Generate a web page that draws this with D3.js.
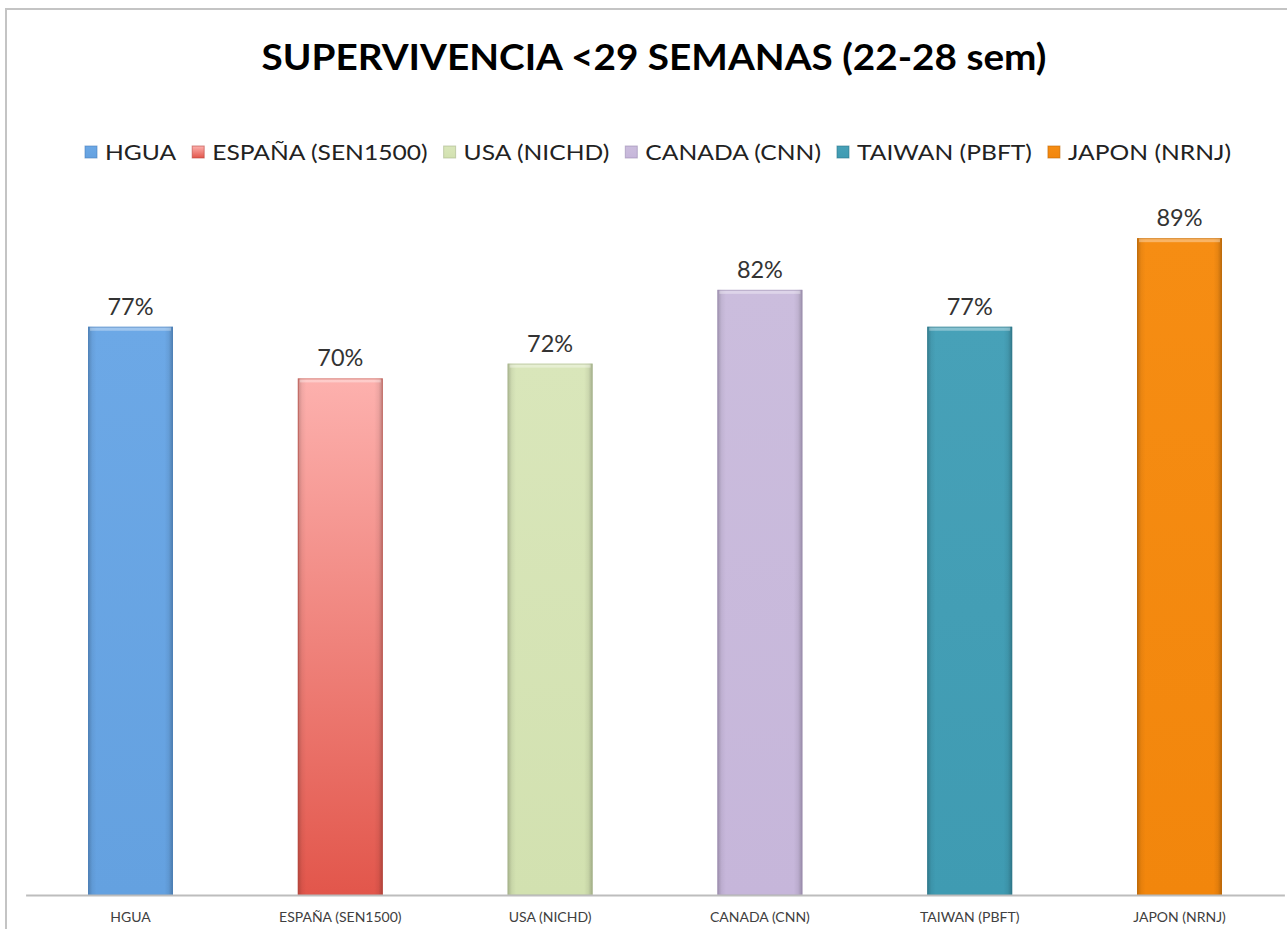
<!DOCTYPE html>
<html>
<head>
<meta charset="utf-8">
<script src="https://cdn.jsdelivr.net/npm/d3@7"></script>
<style>
  body { margin: 0; background: #fff; }
  svg { display: block; }
</style>
</head>
<body>
<div class="root"></div>
<script>
const categories = ['HGUA', 'ESPAÑA (SEN1500)', 'USA (NICHD)', 'CANADA (CNN)', 'TAIWAN (PBFT)', 'JAPON (NRNJ)'];
const values = [0.77, 0.70, 0.72, 0.82, 0.77, 0.89];
const valueLabels = ['77%', '70%', '72%', '82%', '77%', '89%'];
const title = 'SUPERVIVENCIA <29 SEMANAS (22-28 sem)';

// fill colours: [top, bottom, edge]
const barColors = [
  ['#6ca8e6', '#64a1e0', '#4a7fbb'],
  ['#fdb1ae', '#e2564b', '#b8453d'],
  ['#d9e6ba', '#d2e1b0', '#a6b48a'],
  ['#cbbddd', '#c6b6da', '#9a8bb0'],
  ['#47a1b8', '#3f9bb2', '#2d7688'],
  ['#f68d13', '#f2860c', '#c06908']
];

const svgWidth = 1287;
const svgHeight = 929;
const font = 'Lato, "Open Sans", "Liberation Sans", sans-serif';

const svg = d3.select('.root')
  .append('svg')
  .attr('width', svgWidth)
  .attr('height', svgHeight);

// chart frame (right/bottom outside the picture)
svg.append('rect')
  .attr('x', 6).attr('y', 9)
  .attr('width', svgWidth + 20).attr('height', svgHeight + 20)
  .attr('fill', '#fff')
  .attr('stroke', '#c4c4c4')
  .attr('stroke-width', 2);

const x = d3.scaleBand()
  .domain(categories)
  .range([25.6, 1284.4])
  .paddingInner(0.595)
  .paddingOuter(0.2975);

const y = d3.scaleLinear()
  .domain([0, 1])
  .range([895, 157]);

const defs = svg.append('defs');

barColors.forEach((c, i) => {
  const v = defs.append('linearGradient')
    .attr('id', 'vg' + i)
    .attr('x1', 0).attr('y1', 0).attr('x2', 0).attr('y2', 1);
  v.append('stop').attr('offset', '0%').attr('stop-color', c[0]);
  v.append('stop').attr('offset', '100%').attr('stop-color', c[1]);
});

const edge = defs.append('linearGradient')
  .attr('id', 'edge')
  .attr('x1', 0).attr('y1', 0).attr('x2', 1).attr('y2', 0);
[[0, 0.35], [0.05, 0.08], [0.1, 0], [0.9, 0], [0.95, 0.1], [1, 0.4]].forEach(s => {
  edge.append('stop')
    .attr('offset', s[0])
    .attr('stop-color', '#000')
    .attr('stop-opacity', s[1]);
});

const g = svg.append('g');

const bar = g.selectAll('.bar')
  .data(categories.map((c, i) => ({ cat: c, value: values[i], label: valueLabels[i], i: i })))
  .enter()
  .append('g')
  .attr('class', 'bar');

bar.append('rect')
  .attr('x', d => x(d.cat))
  .attr('y', d => y(d.value))
  .attr('width', x.bandwidth())
  .attr('height', d => y(0) - y(d.value))
  .attr('fill', d => `url(#vg${d.i})`);

bar.append('rect')
  .attr('x', d => x(d.cat))
  .attr('y', d => y(d.value))
  .attr('width', x.bandwidth())
  .attr('height', d => y(0) - y(d.value))
  .attr('fill', 'url(#edge)')
  .attr('opacity', 0.6);

// top bevel highlight
bar.append('rect')
  .attr('x', d => x(d.cat) + 2)
  .attr('y', d => y(d.value))
  .attr('width', x.bandwidth() - 4)
  .attr('height', 4)
  .attr('fill', '#fff')
  .attr('opacity', 0.35);

bar.append('rect')
  .attr('x', d => x(d.cat) + 0.5)
  .attr('y', d => y(d.value) + 0.5)
  .attr('width', x.bandwidth() - 1)
  .attr('height', d => y(0) - y(d.value) - 0.5)
  .attr('fill', 'none')
  .attr('stroke', d => barColors[d.i][2])
  .attr('stroke-opacity', 0.55)
  .attr('stroke-width', 1);

bar.append('text')
  .attr('x', d => x(d.cat) + x.bandwidth() / 2)
  .attr('y', d => y(d.value) - 12)
  .attr('text-anchor', 'middle')
  .attr('font-family', font)
  .attr('font-size', 24)
  .attr('fill', '#333')
  .attr('textLength', 46)
  .attr('lengthAdjust', 'spacingAndGlyphs')
  .text(d => d.label);

// x axis
const xAxis = g.append('g')
  .attr('class', 'axis axis--x')
  .attr('transform', `translate(0,${y(0)})`)
  .call(d3.axisBottom(x).tickSize(0).tickPadding(17));

xAxis.select('.domain')
  .attr('stroke', '#bdbdbd')
  .attr('stroke-width', 2);

xAxis.selectAll('text')
  .attr('font-family', font)
  .attr('font-size', 14)
  .attr('fill', '#404040');

// title
svg.append('text')
  .attr('x', 654)
  .attr('y', 70)
  .attr('text-anchor', 'middle')
  .attr('font-family', font)
  .attr('font-weight', 'bold')
  .attr('font-size', 37)
  .attr('fill', '#000')
  .attr('textLength', 785)
  .attr('lengthAdjust', 'spacingAndGlyphs')
  .text(title);

// legend
const legend = svg.append('g').attr('class', 'legend');
const markerSize = 12;
const markerGap = 8;
const itemGap = 16;
const legendLeft = 85;
const legendRight = 1231;

const items = legend.selectAll('.item')
  .data(categories)
  .enter()
  .append('g')
  .attr('class', 'item');

const labels = items.append('text')
  .attr('font-family', font)
  .attr('font-size', 20)
  .attr('fill', '#222')
  .attr('y', 160)
  .text(d => d);

const widths = [];
labels.each(function () { widths.push(this.getComputedTextLength()); });
const fixed = categories.length * (markerSize + markerGap) + (categories.length - 1) * itemGap;
const k = (legendRight - legendLeft - fixed) / d3.sum(widths);
labels.attr('font-size', 22)
  .attr('textLength', (d, i) => widths[i] * k)
  .attr('lengthAdjust', 'spacingAndGlyphs');

let cx = legendLeft;
items.each(function (d, i) {
  const item = d3.select(this);
  item.insert('rect', 'text')
    .attr('x', cx)
    .attr('y', 146)
    .attr('width', markerSize)
    .attr('height', markerSize)
    .attr('fill', `url(#vg${i})`)
    .attr('stroke', barColors[i][2])
    .attr('stroke-opacity', 0.6)
    .attr('stroke-width', 1);
  item.select('text').attr('x', cx + markerSize + markerGap);
  cx += markerSize + markerGap + widths[i] * k + itemGap;
});
</script>
</body>
</html>
